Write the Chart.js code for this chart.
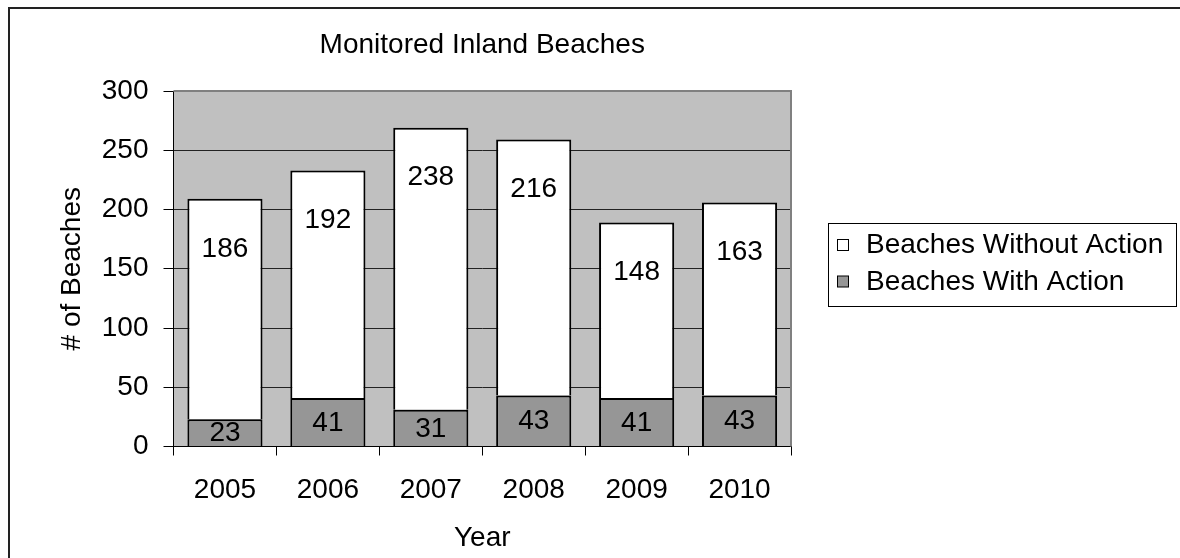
<!DOCTYPE html>
<html>
<head>
<meta charset="utf-8">
<script src="https://cdn.jsdelivr.net/npm/chart.js@4.4.1/dist/chart.umd.min.js"></script>
<style>
  html, body { margin: 0; padding: 0; background: #fff; }
  #wrap { width: 1180px; height: 558px; }
</style>
</head>
<body>
<div id="wrap"><canvas id="c" width="1180" height="558"></canvas></div>
<script>
const years = ['2005', '2006', '2007', '2008', '2009', '2010'];
const withAction = [23, 41, 31, 43, 41, 43];
const withoutAction = [186, 192, 238, 216, 148, 163];
const yTicks = [0, 50, 100, 150, 200, 250, 300];

const FONT = '"Liberation Sans", Arial, sans-serif';

const backgroundPlugin = {
  id: 'bgPlugin',
  beforeDraw(chart) {
    const { ctx, chartArea: a } = chart;
    ctx.save();
    ctx.fillStyle = '#fff';
    ctx.fillRect(0, 0, chart.width, chart.height);
    ctx.fillStyle = '#C0C0C0';
    ctx.fillRect(a.left, a.top, a.right - a.left, a.bottom - a.top);
    // outer chart border (left and top visible)
    ctx.strokeStyle = '#222';
    ctx.lineWidth = 2;
    ctx.beginPath();
    ctx.moveTo(9, chart.height + 2);
    ctx.lineTo(9, 8);
    ctx.lineTo(chart.width + 2, 8);
    ctx.stroke();
    ctx.restore();
  },
  beforeDatasetsDraw(chart) {
    const { ctx, chartArea: a } = chart;
    ctx.save();
    ctx.strokeStyle = '#808080';
    ctx.lineWidth = 2;
    ctx.beginPath();
    ctx.moveTo(a.left, a.top);
    ctx.lineTo(a.right, a.top);
    ctx.lineTo(a.right, a.bottom);
    ctx.stroke();
    ctx.restore();
  }
};

const labelPlugin = {
  id: 'barLabels',
  afterDatasetsDraw(chart) {
    const ctx = chart.ctx;
    ctx.save();
    ctx.font = '28px ' + FONT;
    ctx.fillStyle = '#000';
    ctx.textAlign = 'center';
    ctx.textBaseline = 'middle';
    chart.data.datasets.forEach((ds, di) => {
      const meta = chart.getDatasetMeta(di);
      meta.data.forEach((el, i) => {
        const y = di === 0 ? (el.y + el.base) / 2 + 1 : el.y + 50;
        ctx.fillText(String(ds.data[i]), el.x, y);
      });
    });
    ctx.restore();
  }
};

const legendPlugin = {
  id: 'boxLegend',
  afterDraw(chart) {
    const ctx = chart.ctx;
    const bx = 828.5, by = 223.5, bw = 348, bh = 83;
    ctx.save();
    ctx.fillStyle = '#fff';
    ctx.fillRect(bx, by, bw, bh);
    ctx.strokeStyle = '#000';
    ctx.lineWidth = 1;
    ctx.strokeRect(bx, by, bw, bh);
    const items = chart.data.datasets.slice().reverse();
    const rowY = [245.5, 282];
    ctx.font = '28px ' + FONT;
    ctx.textAlign = 'left';
    ctx.textBaseline = 'middle';
    items.forEach((ds, i) => {
      const cy = rowY[i];
      ctx.fillStyle = ds.backgroundColor;
      ctx.fillRect(837.5, cy - 6, 11, 11);
      ctx.strokeStyle = '#000';
      ctx.strokeRect(837.5, cy - 6, 11, 11);
      ctx.fillStyle = '#000';
      ctx.fillText(ds.label, 866, cy);
    });
    ctx.restore();
  }
};

new Chart(document.getElementById('c'), {
  type: 'bar',
  data: {
    labels: years,
    datasets: [
      {
        label: 'Beaches With Action',
        data: withAction,
        backgroundColor: '#969696',
        borderColor: '#000',
        borderWidth: 2,
        categoryPercentage: 1,
        barPercentage: 0.73
      },
      {
        label: 'Beaches Without Action',
        data: withoutAction,
        backgroundColor: '#FFFFFF',
        borderColor: '#000',
        borderWidth: 2,
        categoryPercentage: 1,
        barPercentage: 0.73
      }
    ]
  },
  options: {
    responsive: false,
    animation: false,
    layout: { padding: { left: 0, right: 389, top: 0, bottom: 0 } },
    plugins: {
      legend: { display: false },
      tooltip: { enabled: false },
      title: {
        display: true,
        text: 'Monitored Inland Beaches',
        fullSize: false,
        color: '#000',
        font: { family: FONT, size: 28, weight: 'normal', lineHeight: 1.2 },
        padding: { top: 28, bottom: 29.4 }
      }
    },
    scales: {
      x: {
        stacked: true,
        offset: true,
        grid: {
          display: true,
          drawOnChartArea: false,
          drawTicks: true,
          tickLength: 9,
          color: '#000',
          offset: true
        },
        border: { display: true, color: '#000', width: 1 },
        ticks: {
          color: '#000',
          font: { family: FONT, size: 28 },
          padding: 18,
          maxRotation: 0
        },
        title: {
          display: true,
          text: 'Year',
          color: '#000',
          font: { family: FONT, size: 28 },
          padding: { top: 0, bottom: 3 }
        },
        afterFit(scale) { scale.height = 111.5; }
      },
      y: {
        stacked: true,
        min: 0,
        max: 300,
        afterBuildTicks(scale) { scale.ticks = yTicks.map(v => ({ value: v })); },
        grid: {
          color: '#222',
          lineWidth: 1,
          drawTicks: true,
          tickLength: 10,
          tickColor: '#000'
        },
        border: { display: true, color: '#000', width: 1 },
        ticks: {
          color: '#000',
          font: { family: FONT, size: 28 },
          padding: 15
        },
        title: {
          display: true,
          text: '# of Beaches',
          color: '#000',
          font: { family: FONT, size: 28 },
          padding: { top: 55, bottom: 0 }
        },
        afterFit(scale) { scale.width = 173.5; }
      }
    }
  },
  plugins: [backgroundPlugin, labelPlugin, legendPlugin]
});
</script>
</body>
</html>
